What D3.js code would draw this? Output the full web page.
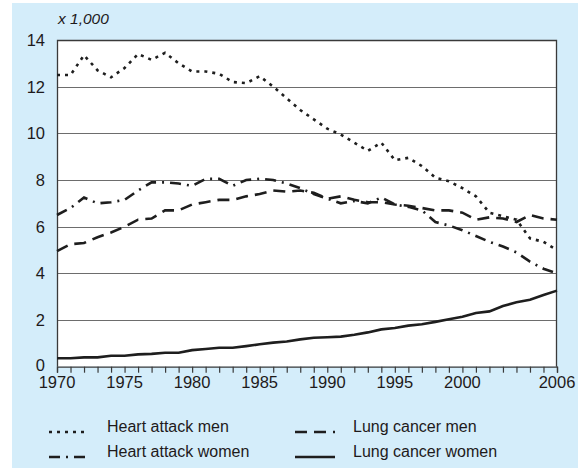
<!DOCTYPE html>
<html>
<head>
<meta charset="utf-8">
<script src="https://cdn.jsdelivr.net/npm/d3@7"></script>
<style>
  body { margin: 0; background: #fff; }
  svg { display: block; font-family: "Liberation Sans", Arial, sans-serif; }
</style>
</head>
<body>
<div id="container"></div>
<script>
// Data (thousands), 1970 .. end of axis
const years = d3.range(1970, 2008);
const heartAttackMen = [12.5, 12.5, 13.35, 12.7, 12.4, 12.8, 13.4, 13.15, 13.45, 13.0,
  12.65, 12.65, 12.55, 12.2, 12.15, 12.45, 12.0, 11.5, 11.0, 10.6,
  10.2, 9.95, 9.6, 9.25, 9.6, 8.85, 8.95, 8.6, 8.1, 7.95,
  7.65, 7.3, 6.6, 6.45, 6.3, 5.5, 5.35, 5.0];
const heartAttackWomen = [6.5, 6.8, 7.25, 7.0, 7.05, 7.15, 7.55, 7.9, 7.9, 7.85,
  7.75, 8.05, 8.05, 7.75, 8.0, 8.05, 8.0, 7.85, 7.65, 7.4,
  7.2, 7.0, 7.1, 7.0, 7.25, 6.95, 6.85, 6.7, 6.2, 6.05,
  5.85, 5.6, 5.35, 5.15, 4.9, 4.5, 4.2, 4.0];
const lungCancerMen = [4.95, 5.25, 5.3, 5.55, 5.75, 6.0, 6.3, 6.35, 6.7, 6.7,
  6.95, 7.05, 7.15, 7.15, 7.3, 7.4, 7.55, 7.5, 7.55, 7.45,
  7.2, 7.3, 7.15, 7.05, 7.05, 6.95, 6.9, 6.8, 6.7, 6.7,
  6.6, 6.3, 6.4, 6.35, 6.2, 6.5, 6.35, 6.3];
const lungCancerWomen = [0.36, 0.36, 0.4, 0.4, 0.47, 0.47, 0.53, 0.55, 0.6, 0.6,
  0.71, 0.76, 0.81, 0.81, 0.88, 0.96, 1.03, 1.08, 1.17, 1.24,
  1.26, 1.29, 1.37, 1.47, 1.6, 1.66, 1.76, 1.82, 1.92, 2.03,
  2.14, 2.3, 2.37, 2.6, 2.76, 2.87, 3.07, 3.26];

const xTickValues = [1970, 1975, 1980, 1985, 1990, 1995, 2000, 2007];
const xTickLabels = ["1970", "1975", "1980", "1985", "1990", "1995", "2000", "2006"];
const yTickValues = [0, 2, 4, 6, 8, 10, 12, 14];

const series = [
  { name: "Heart attack men", values: heartAttackMen, dash: "3,5" },
  { name: "Heart attack women", values: heartAttackWomen, dash: "11,6,2,6" },
  { name: "Lung cancer men", values: lungCancerMen, dash: "12,7" },
  { name: "Lung cancer women", values: lungCancerWomen, dash: null }
];

const width = 578;
const height = 468;
const plot = { left: 57, top: 40, right: 557, bottom: 366.7 };
const ink = "#1e1a1b";

const svg = d3
  .select("#container")
  .append("svg")
  .attr("width", width)
  .attr("height", height);

// light blue panel
svg.append("rect")
  .attr("x", 12).attr("y", 3)
  .attr("width", width - 12).attr("height", height - 3)
  .attr("fill", "#d4edfa");

svg.append("rect")
  .attr("x", plot.left).attr("y", plot.top)
  .attr("width", plot.right - plot.left).attr("height", plot.bottom - plot.top)
  .attr("fill", "#fff");

const x = d3.scaleLinear().domain([1970, 2007]).range([plot.left, plot.right]);
const y = d3.scaleLinear().domain([0, 14]).range([plot.bottom, plot.top]);

// grid lines
svg.append("g")
  .selectAll("line")
  .data(yTickValues.filter((d) => d > 0 && d < 14))
  .enter()
  .append("line")
  .attr("x1", plot.left).attr("x2", plot.right)
  .attr("y1", (d) => Math.round(y(d)) + 0.5)
  .attr("y2", (d) => Math.round(y(d)) + 0.5)
  .attr("stroke", "#6d6d6d")
  .attr("stroke-width", 1.2);

// frame
svg.append("path")
  .attr("d", `M${plot.left + 0.5},${plot.bottom}V${plot.top + 0.5}H${plot.right - 0.5}V${plot.bottom}`)
  .attr("fill", "none")
  .attr("stroke", "#3a3a3a")
  .attr("stroke-width", 1.3);

// y labels
svg.append("g")
  .selectAll("text")
  .data(yTickValues)
  .enter()
  .append("text")
  .attr("x", 45)
  .attr("y", (d) => y(d) - (d === 0 ? 1.5 : 0))
  .attr("dy", "0.36em")
  .attr("text-anchor", "end")
  .attr("font-size", 16.5)
  .attr("fill", ink)
  .text((d) => d);

svg.append("text")
  .attr("x", 58).attr("y", 24)
  .attr("font-size", 15.5)
  .attr("font-style", "italic")
  .attr("fill", ink)
  .text("x 1,000");

// x axis
const xAxis = d3.axisBottom(x)
  .tickValues(years)
  .tickSize(6)
  .tickFormat("");
const gx = svg.append("g")
  .attr("transform", `translate(0,${plot.bottom})`)
  .call(xAxis);
gx.select(".domain").attr("stroke", "#3a3a3a").attr("stroke-width", 1.3);
gx.selectAll(".tick line").attr("stroke", "#3a3a3a").attr("stroke-width", 1.2);

svg.append("g")
  .selectAll("text")
  .data(xTickValues)
  .enter()
  .append("text")
  .attr("x", (d) => x(d))
  .attr("y", 388)
  .attr("text-anchor", "middle")
  .attr("font-size", 16.5)
  .attr("fill", ink)
  .text((d, i) => xTickLabels[i]);

// lines
const line = d3.line()
  .x((d, i) => x(years[i]))
  .y((d) => y(d));

svg.append("g")
  .selectAll("path")
  .data(series)
  .enter()
  .append("path")
  .attr("d", (d) => line(d.values))
  .attr("fill", "none")
  .attr("stroke", "#1e1e1e")
  .attr("stroke-width", 2.6)
  .attr("stroke-dasharray", (d) => d.dash);

// legend
const legendPos = [
  { lx: 49, ty: 433 },
  { lx: 49, ty: 458 },
  { lx: 295, ty: 433 },
  { lx: 295, ty: 458 }
];
const legend = svg.append("g")
  .selectAll("g")
  .data(series)
  .enter()
  .append("g")
  .attr("transform", (d, i) => `translate(${legendPos[i].lx},${legendPos[i].ty})`);

legend.append("line")
  .attr("x1", 0).attr("x2", 40)
  .attr("y1", -1).attr("y2", -1)
  .attr("stroke", "#1e1e1e")
  .attr("stroke-width", 2.6)
  .attr("stroke-dasharray", (d) => d.dash);

legend.append("text")
  .attr("x", 58)
  .attr("y", -1)
  .attr("font-size", 16)
  .attr("fill", ink)
  .text((d) => d.name);
</script>
</body>
</html>
